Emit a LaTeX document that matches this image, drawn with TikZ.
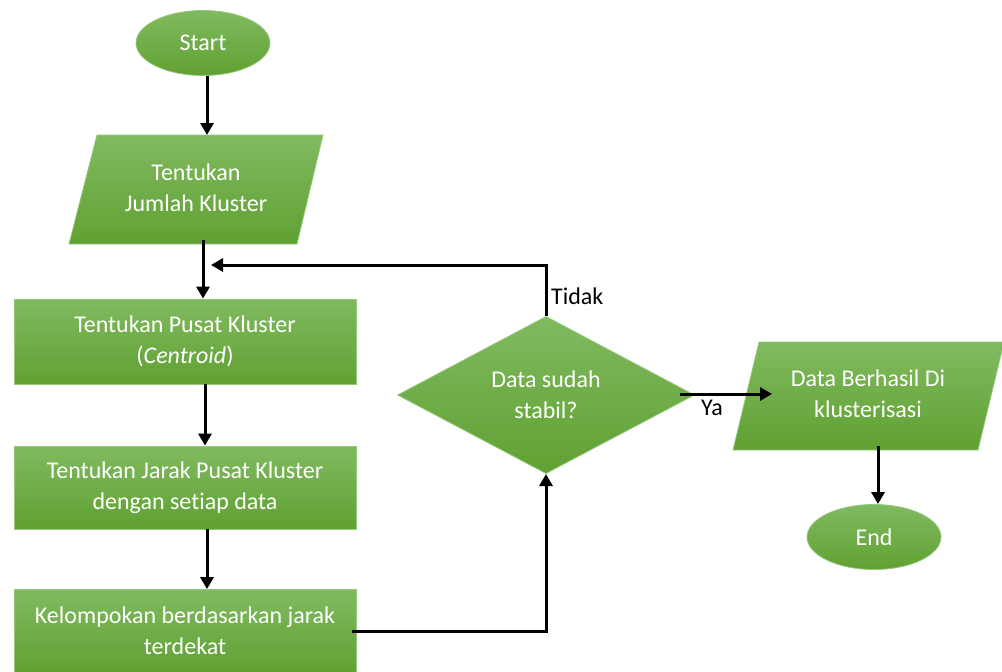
\documentclass[tikz,border=0pt]{standalone}
\usepackage{fontspec}
\setmainfont[Ligatures=NoCommon]{Carlito}
\usetikzlibrary{shapes.geometric,arrows.meta}
\definecolor{gtop}{RGB}{128,186,96}
\definecolor{gbot}{RGB}{96,161,50}
\definecolor{gedge}{RGB}{150,200,125}
\tikzset{
  fillg/.style={top color=gtop, bottom color=gbot, draw=gedge, line width=0.8pt},
  txt/.style={text=white, align=center, font=\fontsize{24}{31}\selectfont},
  procbox/.style={fillg, txt, rectangle, minimum width=342pt, minimum height=85pt, inner sep=0pt},
  term/.style={fillg, txt, ellipse, minimum width=134pt, minimum height=65pt, inner sep=0pt},
  decis/.style={fillg, txt, diamond, minimum width=297pt, minimum height=150pt, inner sep=0pt},
  arr/.style={-{Triangle[length=12pt,width=13pt]}, line width=3pt, black},
  lbl/.style={font=\fontsize{24}{31}\selectfont, text=black, inner sep=0pt}
}
\begin{document}
\begin{tikzpicture}[x=1pt,y=-1pt]
\useasboundingbox (0,0) rectangle (1002,672);
% terminals
\node[term] (start) at (203,43) {Start};
\node[term] (end) at (874,537) {End};
% input/output parallelograms
\path[fillg] (97,135) -- (323,135) -- (297,244) -- (69,244) -- cycle;
\node[txt] (p1) at (196,188) {Tentukan\\Jumlah Kluster};
\coordinate (p1top) at (207,135);
\coordinate (p1bot) at (203,240);
\path[fillg] (759,342) -- (1004,342) -- (978,450) -- (733,450) -- cycle;
\node[txt] (p2) at (868,394) {Data Berhasil Di\\klusterisasi};
\coordinate (p2bot) at (878,446);
\coordinate (yaend) at (772,394);
% process boxes
\node[procbox] (r2) at (185,341.5) {Tentukan Pusat Kluster\\(\textit{Centroid})};
\node[procbox, minimum height=83pt] (r3) at (185,487.5) {Tentukan Jarak Pusat Kluster\\dengan setiap data};
\node[procbox, minimum height=83pt] (r4) at (185,631) {Kelompokan berdasarkan jarak\\terdekat};
% decision
\node[decis] (dia) at (546,395) {Data sudah\\stabil?};
\coordinate (loopend) at (211,265);
\coordinate (yastart) at (680,394);
% connectors
\draw[arr] ([xshift=4pt]start.south) -- (p1top);
\draw[arr] (p1bot) -- (p1bot |- r2.north);
\draw[arr] ([xshift=20pt]r2.south) -- ([xshift=20pt]r3.north);
\draw[arr] ([xshift=22pt]r3.south) -- ([xshift=22pt]r4.north);
\draw[arr] ([xshift=-4pt]r4.east) -| (dia.south);
\draw[arr] (dia.north) |- (loopend);
\draw[arr] (yastart) -- (yaend);
\draw[arr] (p2bot) -- (p2bot |- end.north);
% labels
\node[lbl, anchor=west] (tidak) at (551,296) {Tidak};
\node[lbl] (ya) at (712,408) {Ya};
\end{tikzpicture}
\end{document}
